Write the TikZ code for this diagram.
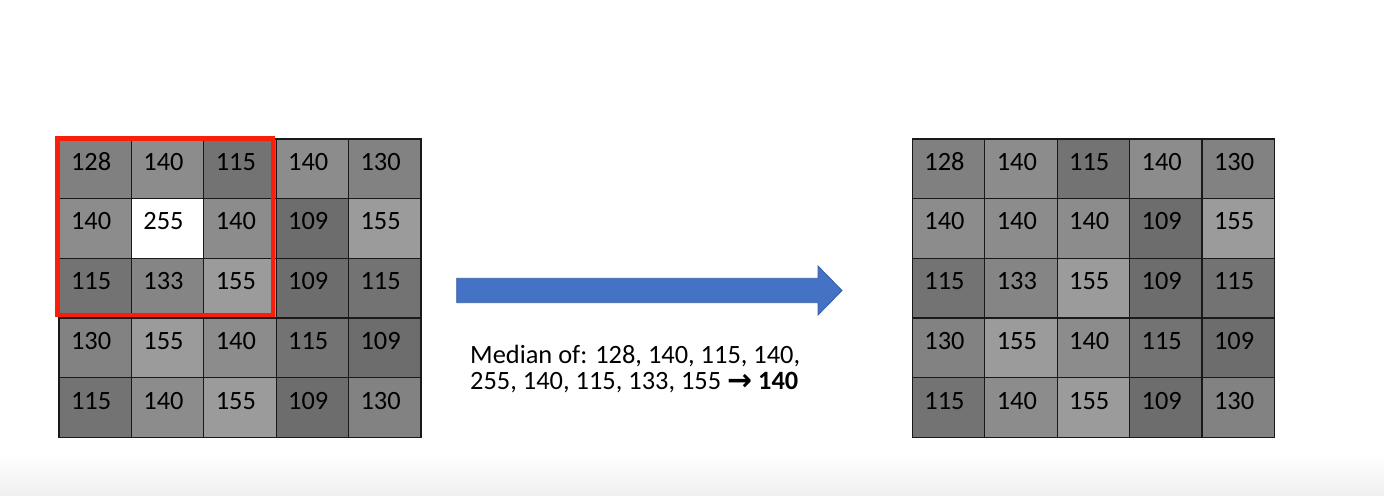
\documentclass[tikz,border=0pt]{standalone}
\usepackage{fontspec}
\setmainfont{Carlito}
\newfontfamily\dejavu{DejaVu Sans}
\usetikzlibrary{calc}
\definecolor{gridline}{RGB}{25,25,25}
\definecolor{winred}{RGB}{250,30,10}
\definecolor{arrowblue}{RGB}{68,114,196}
\definecolor{arrowedge}{RGB}{55,95,165}
\begin{document}
\begin{tikzpicture}[x=1bp,y=-1bp,
  cell/.style={draw=gridline,line width=1.3bp,minimum width=72.4bp,minimum height=59.7bp,inner sep=0pt,anchor=north west},
  val/.style={anchor=base west,inner sep=0pt,font=\fontsize{26.5}{31}\selectfont},
  caption/.style={anchor=base west,inner sep=0pt,font=\fontsize{26.5}{31}\selectfont}]
\useasboundingbox (0,0) rectangle (1384,496);
\fill[white] (0,0) rectangle (1384,496);
\shade[top color=white,bottom color=black!6] (0,452) rectangle (1384,496);
% left grid
\foreach \rowvals [count=\r] in {{128,140,115,140,130},{140,255,140,109,155},{115,133,155,109,115},{130,155,140,115,109},{115,140,155,109,130}}{
  \foreach \v [count=\c] in \rowvals {
    \node[cell,fill={rgb,255:red,\v;green,\v;blue,\v}] (L-\r-\c) at ({58.3+(\c-1)*72.4},{138.3+(\r-1)*59.7}) {};
    \node[val] (LT-\r-\c) at ($(L-\r-\c.north west)+(12.5,32)$) {\v};
  }
}
% right grid
\foreach \rowvals [count=\r] in {{128,140,115,140,130},{140,140,140,109,155},{115,133,155,109,115},{130,155,140,115,109},{115,140,155,109,130}}{
  \foreach \v [count=\c] in \rowvals {
    \node[cell,fill={rgb,255:red,\v;green,\v;blue,\v}] (R-\r-\c) at ({911.7+(\c-1)*72.4},{138.3+(\r-1)*59.7}) {};
    \node[val] (RT-\r-\c) at ($(R-\r-\c.north west)+(12.5,32)$) {\v};
  }
}
% red window
\draw[winred,line width=4.5bp] ($(L-1-1.north west)+(-0.8,0.2)$) rectangle ($(L-3-3.south east)+(-4,-3.5)$);
% arrow
\coordinate (tip) at (842,290.5);
\fill[arrowblue,draw=arrowedge,line width=0.8bp] (456.7,278.3) -- (818,278.3) -- (818,266) -- (tip) -- (818,315) -- (818,302.7) -- (456.7,302.7) -- cycle;
% caption
\node[caption] (med1) at (470,363.3) {Median of: 128, 140, 115, 140,};
\node[caption] (med2) at (470,389.5) {255, 140, 115, 133, 155 {\dejavu\bfseries\fontsize{30}{30}\selectfont\raisebox{-0.5bp}{→}} \textbf{140}};
\end{tikzpicture}
\end{document}
